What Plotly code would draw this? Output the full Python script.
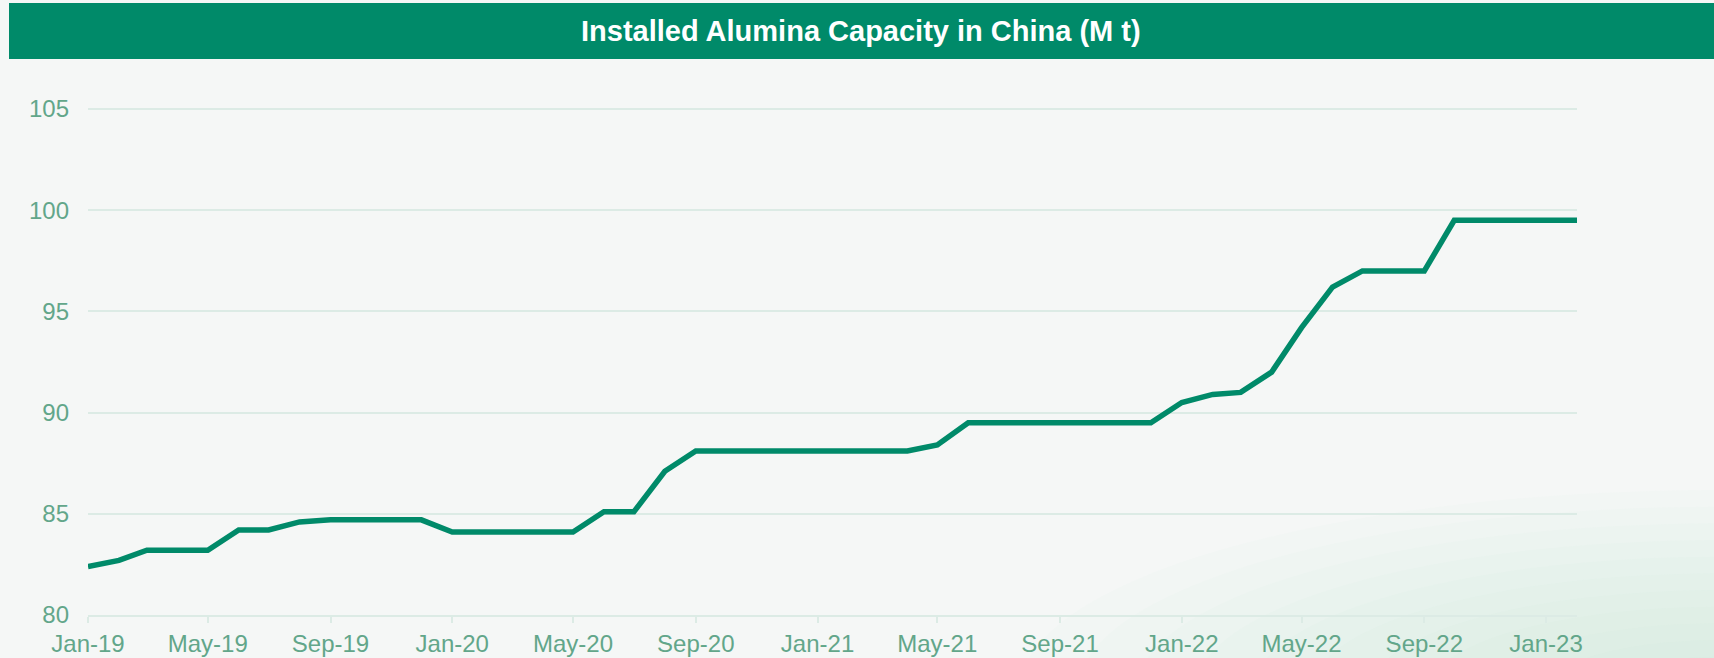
import plotly.graph_objects as go

# monthly installed capacity, Jan-2019 .. Feb-2023 (M t)
months = [
    "2019-01-01", "2019-02-01", "2019-03-01", "2019-04-01", "2019-05-01", "2019-06-01",
    "2019-07-01", "2019-08-01", "2019-09-01", "2019-10-01", "2019-11-01", "2019-12-01",
    "2020-01-01", "2020-02-01", "2020-03-01", "2020-04-01", "2020-05-01", "2020-06-01",
    "2020-07-01", "2020-08-01", "2020-09-01", "2020-10-01", "2020-11-01", "2020-12-01",
    "2021-01-01", "2021-02-01", "2021-03-01", "2021-04-01", "2021-05-01", "2021-06-01",
    "2021-07-01", "2021-08-01", "2021-09-01", "2021-10-01", "2021-11-01", "2021-12-01",
    "2022-01-01", "2022-02-01", "2022-03-01", "2022-04-01", "2022-05-01", "2022-06-01",
    "2022-07-01", "2022-08-01", "2022-09-01", "2022-10-01", "2022-11-01", "2022-12-01",
    "2023-01-01", "2023-02-01",
]
capacity = [
    82.4, 82.7, 83.2, 83.2, 83.2, 84.2, 84.2, 84.6, 84.7, 84.7, 84.7, 84.7,
    84.1, 84.1, 84.1, 84.1, 84.1, 85.1, 85.1, 87.1, 88.1, 88.1, 88.1, 88.1,
    88.1, 88.1, 88.1, 88.1, 88.4, 89.5, 89.5, 89.5, 89.5, 89.5, 89.5, 89.5,
    90.5, 90.9, 91.0, 92.0, 94.2, 96.2, 97.0, 97.0, 97.0, 99.5, 99.5, 99.5,
    99.5, 99.5,
]
title = "Installed Alumina Capacity in China (M t)"

GREEN = "#008A69"
TICK = "#62A68A"
GRID = "#DCEBE5"
BG = "#F5F7F6"

W, H = 1714, 658
L, R, T, B = 88, 137, 108, 43
PW, PH = W - L - R, H - T - B


def px(x):
    return (x - L) / PW


def py(y):
    return (H - B - y) / PH


fig = go.Figure(go.Scatter(
    x=months, y=capacity, mode="lines",
    line=dict(color=GREEN, width=5.5),
    hoverinfo="skip",
))

shapes = []
# soft green tint towards the lower right corner
cx, cy = 1720, 690
for i in range(12):
    k = 1 - i / 12
    rx, ry = 700 * k, 200 * k
    shapes.append(dict(type="circle", xref="paper", yref="paper",
                       x0=px(cx - rx), x1=px(cx + rx),
                       y0=py(cy + ry), y1=py(cy - ry),
                       fillcolor="#B3DCC8", opacity=0.04, line_width=0, layer="below"))
# title band
shapes.append(dict(type="rect", xref="paper", yref="paper",
                   x0=px(9), x1=px(W + 5), y0=py(59), y1=py(3),
                   fillcolor=GREEN, line_width=0))

fig.update_layout(
    width=W, height=H,
    margin=dict(l=L, r=R, t=T, b=B),
    paper_bgcolor=BG, plot_bgcolor="rgba(0,0,0,0)",
    font=dict(family="Liberation Sans, Arial, sans-serif", size=24, color=TICK),
    showlegend=False,
    shapes=shapes,
    annotations=[dict(text="<b>" + title + "</b>", xref="paper", yref="paper",
                      x=px(861), y=py(31), xanchor="center", yanchor="middle",
                      showarrow=False, font=dict(size=29, color="white"))],
)
fig.update_xaxes(
    type="date", range=["2019-01-01", "2023-02-01"],
    tick0="2019-01-01", dtick="M4", tickformat="%b-%y",
    showgrid=False, showline=True, linecolor=GRID, linewidth=2,
    ticks="outside", ticklen=6, tickcolor=GRID, tickwidth=2,
    ticklabelstandoff=0, automargin=False,
)
fig.update_yaxes(
    range=[80, 105.05], tick0=80, dtick=5, showgrid=True, gridcolor=GRID, gridwidth=2,
    zeroline=False, ticks="", ticklabelstandoff=18, automargin=False,
)

fig.write_html("out.html", config={"displayModeBar": False}, post_script=(
    "document.body.style.margin='0';document.body.style.overflow='hidden';"))
